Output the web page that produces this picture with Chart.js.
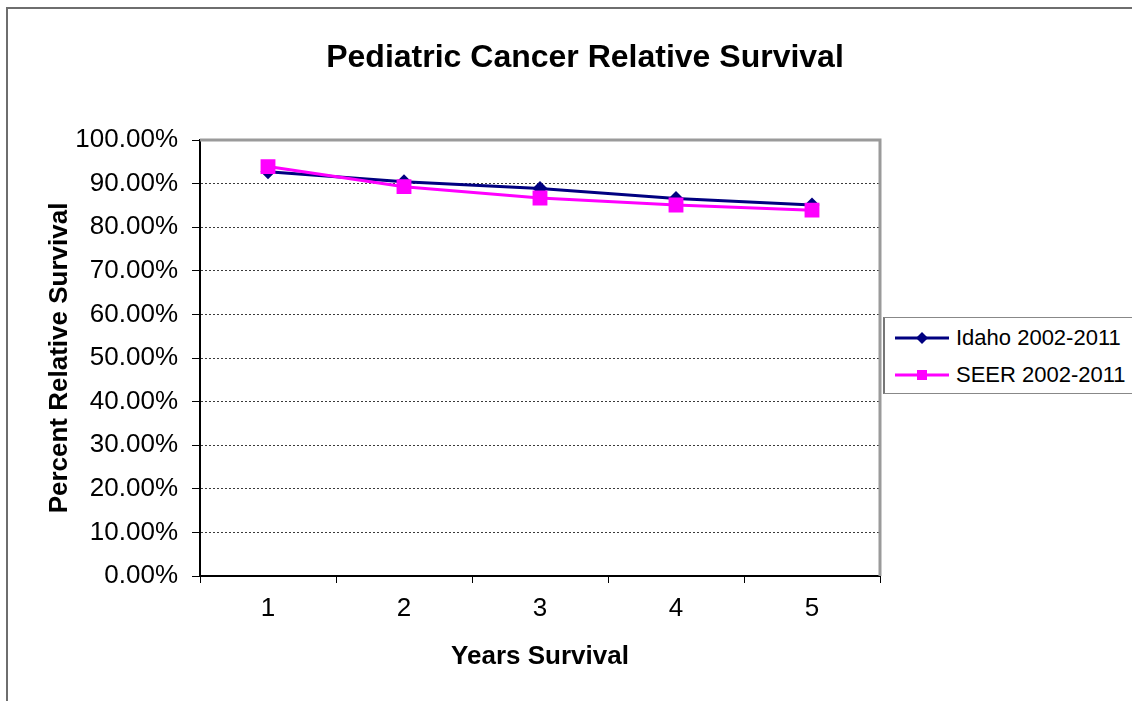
<!DOCTYPE html>
<html>
<head>
<meta charset="utf-8">
<title>Pediatric Cancer Relative Survival</title>
<script src="https://cdn.jsdelivr.net/npm/chart.js@4.4.1/dist/chart.umd.min.js"></script>
<style>
    html, body { margin: 0; padding: 0; background: #fff; overflow: hidden; }
    #wrap { position: relative; width: 1132px; height: 701px; overflow: hidden; font-family: 'Liberation Sans', Arial, sans-serif; }
    #frame { position: absolute; left: 6px; top: 7px; width: 1300px; height: 900px; border-top: 2px solid #6e6e6e; border-left: 2px solid #6e6e6e; }
    #title { position: absolute; left: 7px; width: 1156px; top: 40px; text-align: center; font-weight: bold; font-size: 32px; line-height: 32px; color: #000; }
    #chart { position: absolute; left: 0; top: 0; }
    #legend { position: absolute; left: 883px; top: 317px; width: 280px; height: 74px; padding-top: 1px; border: 1px solid #888; border-left: 2px solid #777; background: #fff; }
    .legend-row { height: 37px; display: flex; align-items: center; padding-left: 10px; font-size: 22px; color: #000; }
    .legend-row svg { margin-right: 7px; }
</style>
</head>
<body>
<div id="wrap">
    <div id="frame"></div>
    <canvas id="chart" width="1132" height="701"></canvas>
    <div id="title">Pediatric Cancer Relative Survival</div>
    <div id="legend"></div>
</div>
<script>
// Chart data
const years = ['1', '2', '3', '4', '5'];
const idahoSurvival = [92.7, 90.4, 88.9, 86.6, 85.1];
const seerSurvival = [93.9, 89.3, 86.7, 85.1, 83.9];
const seriesNames = ['Idaho 2002-2011', 'SEER 2002-2011'];
const yTicks = [0, 10, 20, 30, 40, 50, 60, 70, 80, 90, 100];

const FONT = "'Liberation Sans', Arial, sans-serif";

// Gray frame on top and right of the plot area
const plotFrame = {
    id: 'plotFrame',
    beforeDatasetsDraw(chart) {
        const { ctx, chartArea: a } = chart;
        ctx.save();
        ctx.strokeStyle = '#9a9a9a';
        ctx.lineWidth = 3;
        ctx.beginPath();
        ctx.moveTo(a.left, a.top);
        ctx.lineTo(a.right, a.top);
        ctx.lineTo(a.right, a.bottom);
        ctx.stroke();
        ctx.restore();
    }
};

const chart = new Chart(document.getElementById('chart'), {
    type: 'line',
    data: {
        labels: years,
        datasets: [
            {
                label: seriesNames[0],
                data: idahoSurvival,
                borderColor: '#000080',
                backgroundColor: '#000080',
                borderWidth: 3,
                pointStyle: 'rectRot',
                pointRadius: 7.5,
                pointBorderWidth: 0,
                tension: 0,
                order: 1
            },
            {
                label: seriesNames[1],
                data: seerSurvival,
                borderColor: '#ff00ff',
                backgroundColor: '#ff00ff',
                borderWidth: 3,
                pointStyle: 'rect',
                pointRadius: 10.5,
                pointBorderWidth: 0,
                tension: 0,
                order: 0
            }
        ]
    },
    options: {
        responsive: false,
        animation: false,
        layout: { padding: { left: 44, top: 140, right: 252, bottom: 29 } },
        plugins: {
            legend: { display: false },
            title: { display: false },
            tooltip: { enabled: false }
        },
        scales: {
            x: {
                offset: true,
                grid: {
                    offset: true,
                    drawOnChartArea: false,
                    drawTicks: true,
                    tickLength: 7,
                    tickColor: '#000',
                    tickWidth: 1
                },
                border: { color: '#000', width: 2 },
                ticks: { color: '#000', padding: 10, font: { family: FONT, size: 26 } },
                title: {
                    display: true,
                    text: 'Years Survival',
                    color: '#000',
                    padding: 0,
                    font: { family: FONT, size: 26, weight: 'bold' }
                },
                afterFit(scale) { scale.height = 96; }
            },
            y: {
                min: 0,
                max: 100,
                afterBuildTicks(scale) { scale.ticks = yTicks.map(v => ({ value: v })); },
                grid: {
                    color: ctx => (ctx.tick && (ctx.tick.value === 0 || ctx.tick.value === 100)) ? 'rgba(0,0,0,0)' : '#3a3a3a',
                    lineWidth: 1,
                    drawTicks: true,
                    tickLength: 8,
                    tickColor: '#000',
                    tickWidth: 1
                },
                border: { color: '#000', width: 2, dash: [2, 2] },
                ticks: {
                    color: '#000',
                    padding: 14,
                    font: { family: FONT, size: 26 },
                    callback: v => v.toFixed(2) + '%'
                },
                title: {
                    display: true,
                    text: 'Percent Relative Survival',
                    color: '#000',
                    padding: 0,
                    font: { family: FONT, size: 26, weight: 'bold' }
                },
                afterFit(scale) { scale.width = 156; }
            }
        }
    },
    plugins: [plotFrame]
});

// Build the boxed legend from the datasets
function buildLegend(chart) {
    const legend = document.getElementById('legend');
    chart.data.datasets.forEach(ds => {
        const row = document.createElement('div');
        row.className = 'legend-row';
        let marker;
        if (ds.pointStyle === 'rectRot') {
            marker = `<polygon points="27,1 33,7 27,13 21,7" fill="${ds.borderColor}"/>`;
        } else {
            marker = `<rect x="22" y="2" width="10" height="10" fill="${ds.borderColor}"/>`;
        }
        row.innerHTML = `<svg width="54" height="14" viewBox="0 0 54 14">
            <line x1="0" y1="7" x2="54" y2="7" stroke="${ds.borderColor}" stroke-width="3"/>${marker}</svg>
            <span>${ds.label}</span>`;
        legend.appendChild(row);
    });
}

buildLegend(chart);
</script>
</body>
</html>
